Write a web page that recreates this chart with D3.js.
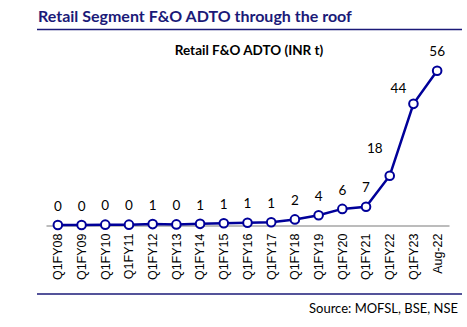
<!DOCTYPE html>
<html>
<head>
<meta charset="utf-8">
<script src="https://cdn.jsdelivr.net/npm/d3@7"></script>
<style>
  body { margin: 0; background: #fff; }
  svg { display: block; }
</style>
</head>
<body>
<svg width="467" height="327"></svg>
<script>
// chart data
var categories = ['Q1FY08', 'Q1FY09', 'Q1FY10', 'Q1FY11', 'Q1FY12', 'Q1FY13', 'Q1FY14', 'Q1FY15',
  'Q1FY16', 'Q1FY17', 'Q1FY18', 'Q1FY19', 'Q1FY20', 'Q1FY21', 'Q1FY22', 'Q1FY23', 'Aug-22'];
var adto = [0.2, 0.2, 0.3, 0.3, 0.5, 0.4, 0.6, 0.8, 1.0, 1.2, 2.2, 3.7, 6.0, 6.8, 18, 44, 56];

var svg = d3.select('svg');
var navy = '#1b1a78';
var lineCol = '#000099';

// heading
svg.append('text')
  .attr('x', 38).attr('y', 22)
  .attr('font-family', 'Lato').attr('font-weight', 'bold').attr('font-size', 16)
  .attr('fill', navy)
  .text('Retail Segment F&O ADTO through the roof');
svg.append('line')
  .attr('x1', 37).attr('x2', 462).attr('y1', 29.5).attr('y2', 29.5)
  .attr('stroke', navy).attr('stroke-width', 1.5);

// chart title
svg.append('text')
  .attr('x', 249).attr('y', 55)
  .attr('text-anchor', 'middle')
  .attr('font-family', 'Lato').attr('font-weight', 'bold').attr('font-size', 13.5)
  .attr('fill', '#000')
  .text('Retail F&O ADTO (INR t)');

var x = d3.scaleBand().domain(categories).range([46, 449]);
var y = d3.scaleLinear().domain([0, 56]).range([225.5, 70.7]);
var cx = d => x(d) + x.bandwidth() / 2;

// category axis
var xAxis = svg.append('g')
  .attr('transform', 'translate(0,225.5)')
  .call(d3.axisBottom(x).tickSize(0).tickPadding(0));
xAxis.select('.domain').attr('stroke', '#a6a6a6').attr('stroke-width', 1.3);
xAxis.selectAll('text')
  .attr('font-family', 'Liberation Sans').attr('font-size', 12.5).attr('fill', '#000')
  .attr('transform', 'rotate(-90)')
  .attr('text-anchor', 'end')
  .attr('x', -8).attr('y', 0).attr('dy', '0.35em');

// line + markers
var line = d3.line()
  .x((d, i) => cx(categories[i]))
  .y(d => y(d));

svg.append('path')
  .datum(adto)
  .attr('d', line)
  .attr('fill', 'none')
  .attr('stroke', lineCol)
  .attr('stroke-width', 2.5);

svg.selectAll('circle.pt')
  .data(adto)
  .enter().append('circle')
  .attr('class', 'pt')
  .attr('cx', (d, i) => cx(categories[i]))
  .attr('cy', d => y(d))
  .attr('r', 4.3)
  .attr('fill', '#fff')
  .attr('stroke', lineCol)
  .attr('stroke-width', 2);

// data labels; the two steep points get their label to the left
svg.selectAll('text.lbl')
  .data(adto)
  .enter().append('text')
  .attr('class', 'lbl')
  .attr('x', (d, i) => cx(categories[i]) + (i == 14 || i == 15 ? -15 : 0))
  .attr('y', (d, i) => y(d) - (i == 14 ? 27 : i == 15 ? 16 : 19))
  .attr('dy', '0.35em')
  .attr('text-anchor', 'middle')
  .attr('font-family', 'Lato').attr('font-size', 13.5)
  .attr('fill', '#000')
  .text(d => Math.round(d));

// footer
svg.append('line')
  .attr('x1', 37).attr('x2', 462).attr('y1', 294).attr('y2', 294)
  .attr('stroke', navy).attr('stroke-width', 1.3);
svg.append('text')
  .attr('x', 458).attr('y', 313)
  .attr('text-anchor', 'end')
  .attr('font-family', 'Lato').attr('font-size', 13)
  .attr('fill', '#000')
  .text('Source: MOFSL, BSE, NSE');
</script>
</body>
</html>
